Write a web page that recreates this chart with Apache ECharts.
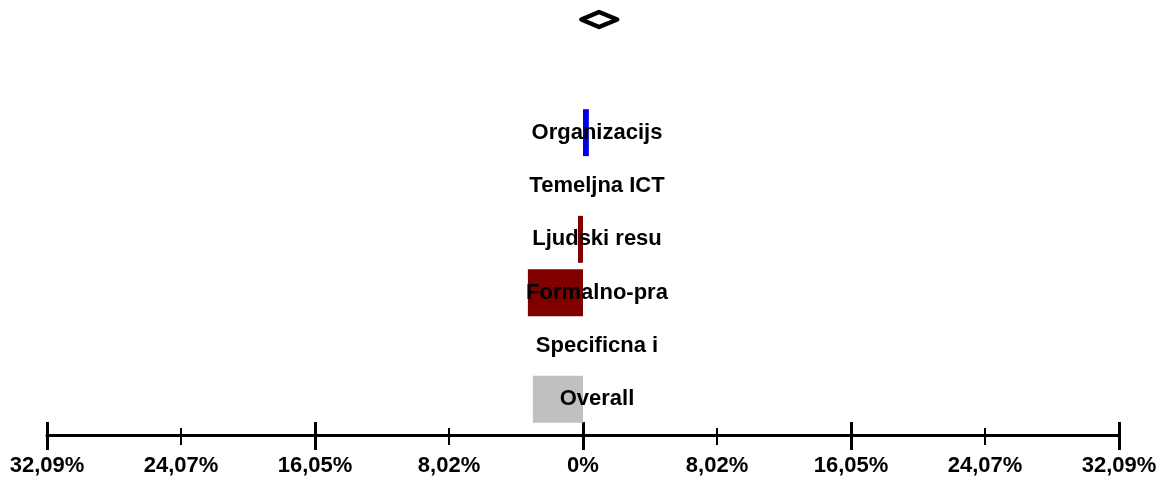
<!DOCTYPE html>
<html>
<head>
<meta charset="utf-8">
<script src="https://cdn.jsdelivr.net/npm/echarts@6/dist/echarts.min.js"></script>
<style>
html,body{margin:0;padding:0;background:#fff;}
#chart{width:1164px;height:481px;}
</style>
</head>
<body>
<div id="chart"></div>
<script>
// ---- data ----
const categories = ['Organizacijs', 'Temeljna ICT', 'Ljudski resu', 'Formalno-pra', 'Specificna i', 'Overall'];
const values = [0.35, 0, -0.3, -3.3, 0, -3.0];
const barColors = ['#0000E8', '#800000', '#800000', '#800000', '#800000', '#C0C0C0'];
const tickLabels = ['32,09%', '24,07%', '16,05%', '8,02%', '0%', '8,02%', '16,05%', '24,07%', '32,09%'];
const axisMin = -32.09;
const axisMax = 32.09;
const minorStep = 8.0225;
const majorStep = 16.045;
// summary diamond: [low, estimate, high]
const diamond = [-0.1, 0.96, 2.05];

const FONT = '"Liberation Sans", Arial, sans-serif';

const chart = echarts.init(document.getElementById('chart'), null, {renderer: 'canvas'});

function baseX(extra) {
  return Object.assign({
    type: 'value', gridIndex: 0, min: axisMin, max: axisMax, position: 'bottom',
    splitLine: {show: false}, axisLabel: {show: false},
    axisLine: {show: false}, offset: 9
  }, extra);
}

const option = {
  animation: false,
  backgroundColor: '#fff',
  grid: [
    {left: 47, right: 45, top: 106, bottom: 55},
    {left: 47, right: 45, top: 0, height: 39}
  ],
  xAxis: [
    baseX({
      interval: minorStep,
      axisLine: {show: true, lineStyle: {color: '#000', width: 3}},
      axisTick: {show: true, inside: false, length: 10, lineStyle: {color: '#000', width: 2}},
      axisLabel: {
        show: true, margin: 20, color: '#000', fontFamily: FONT, fontWeight: 'bold', fontSize: 22,
        formatter: function (v) {
          const i = Math.round((v - axisMin) / minorStep);
          return tickLabels[i] || '';
        }
      }
    }),
    baseX({interval: minorStep, axisTick: {show: true, inside: true, length: 7, lineStyle: {color: '#000', width: 2}}}),
    baseX({interval: majorStep, axisTick: {show: true, inside: false, length: 15, lineStyle: {color: '#000', width: 3}}}),
    baseX({interval: majorStep, axisTick: {show: true, inside: true, length: 13, lineStyle: {color: '#000', width: 3}}}),
    {type: 'value', gridIndex: 1, min: axisMin, max: axisMax, show: false}
  ],
  yAxis: [
    {
      type: 'category', gridIndex: 0, data: categories, inverse: true, z: 5,
      axisLine: {show: false}, axisTick: {show: false}, splitLine: {show: false},
      axisLabel: {
        interval: 0, margin: -550, align: 'center', color: '#000',
        fontFamily: FONT, fontWeight: 'bold', fontSize: 22
      }
    },
    {type: 'value', gridIndex: 1, min: -1, max: 1, show: false}
  ],
  series: [
    {
      type: 'bar', xAxisIndex: 0, yAxisIndex: 0, barWidth: '88%',
      data: values.map((v, i) => ({value: v, itemStyle: {color: barColors[i]}}))
    },
    {
      type: 'custom', xAxisIndex: 4, yAxisIndex: 1,
      data: [diamond],
      renderItem: function (params, api) {
        const lo = api.coord([api.value(0), 0]);
        const mid = api.coord([api.value(1), 0]);
        const hi = api.coord([api.value(2), 0]);
        const h = 7.5;
        return {
          type: 'polygon',
          shape: {points: [[lo[0], lo[1]], [mid[0], mid[1] - h], [hi[0], hi[1]], [mid[0], mid[1] + h]]},
          style: {fill: '#fff', stroke: '#000', lineWidth: 4.5, lineJoin: 'round'}
        };
      }
    }
  ]
};
chart.setOption(option);
</script>
</body>
</html>
